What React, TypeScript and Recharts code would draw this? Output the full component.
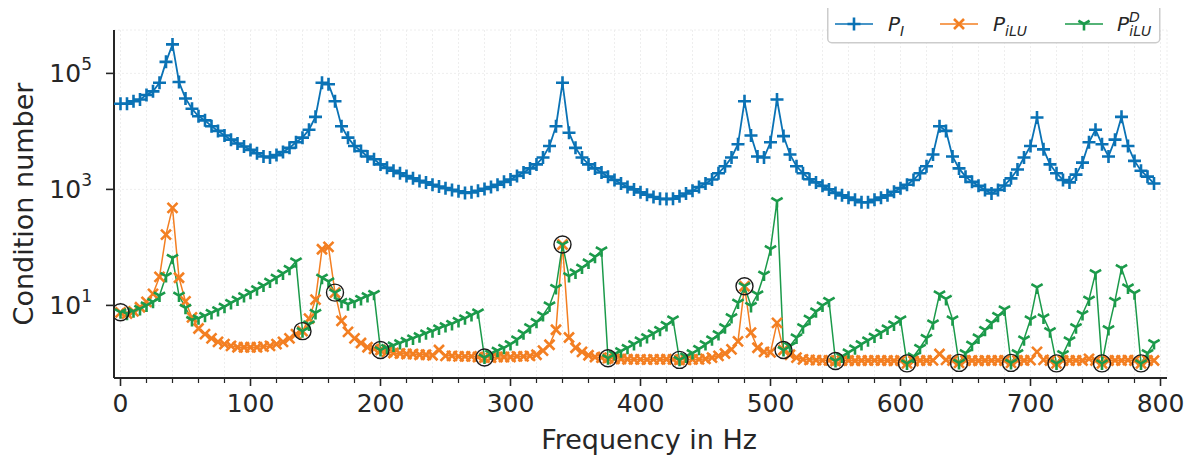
import React from 'react';
import { ComposedChart, Line, XAxis, YAxis, CartesianGrid } from 'recharts';

// condition numbers sampled every 5 Hz, 0 .. 795 Hz
const FREQ_STEP = 5;

const P_I = [
  30000, 30000, 33000, 35500, 42500, 49000, 69000, 158000, 316000, 71000,
  37000, 24500, 18200, 15500, 12300, 10200, 8500, 7200, 6200, 5500,
  4800, 4200, 3700, 3550, 3900, 4400, 5200, 6500, 7800, 10700,
  17800, 69000, 65000, 33000, 12300, 7800, 5600, 4600, 3700, 3300,
  2700, 2350, 2100, 1900, 1700, 1550, 1400, 1320, 1200, 1120,
  1050, 980, 930, 870, 890, 950, 1020, 1100, 1200, 1350,
  1480, 1700, 1950, 2300, 2700, 3550, 5600, 12300, 69000, 9500,
  5200, 3550, 2700, 2300, 1950, 1660, 1450, 1260, 1100, 1000,
  890, 810, 740, 690, 680, 690, 760, 850, 950, 1100,
  1260, 1480, 1900, 2500, 3550, 6000, 33000, 8500, 3700, 3550,
  6500, 35500, 8300, 4000, 2500, 1900, 1500, 1320, 1150, 1000,
  870, 790, 720, 660, 600, 600, 660, 720, 790, 910,
  1050, 1200, 1450, 1900, 2500, 4000, 12300, 10200, 3700, 2300,
  1660, 1350, 1150, 980, 850, 980, 1170, 1550, 2200, 3550,
  5600, 17400, 4900, 2700, 1900, 1450, 1320, 1800, 2900, 6500,
  10700, 6000, 3700, 7200, 17800, 5600, 3100, 2100, 1660, 1260,
];

const P_ILU = [
  7.6, 7.2, 7.9, 9.3, 11.5, 15.8, 31, 166, 480, 30,
  11.7, 6.2, 4.0, 3.2, 2.7, 2.35, 2.15, 2.0, 1.9, 1.9,
  1.9, 1.9, 1.95, 2.0, 2.15, 2.35, 2.7, 3.2, 3.6, 5.9,
  12.6, 93, 102, 16.6, 5.4, 3.5, 2.7, 2.25, 1.9, 1.78,
  1.7, 1.58, 1.51, 1.48, 1.45, 1.45, 1.41, 1.41, 1.38, 1.7,
  1.35, 1.35, 1.32, 1.32, 1.32, 1.29, 1.26, 1.26, 1.29, 1.29,
  1.29, 1.32, 1.32, 1.35, 1.41, 1.66, 2.1, 3.8, 112, 2.8,
  1.86, 1.58, 1.38, 1.29, 1.26, 1.23, 1.2, 1.19, 1.18, 1.17,
  1.17, 1.16, 1.17, 1.17, 1.18, 1.17, 1.15, 1.15, 1.17, 1.17,
  1.2, 1.26, 1.35, 1.48, 1.74, 2.4, 21.4, 3.4, 1.86, 1.58,
  1.55, 5.0, 1.7, 1.41, 1.26, 1.17, 1.15, 1.14, 1.13, 1.13,
  1.1, 1.12, 1.12, 1.11, 1.12, 1.12, 1.13, 1.12, 1.12, 1.11,
  1.12, 1.0, 1.1, 1.12, 1.12, 1.13, 1.45, 1.15, 1.12, 1.02,
  1.12, 1.12, 1.11, 1.12, 1.12, 1.13, 1.12, 1.02, 1.12, 1.12,
  1.14, 1.58, 1.15, 1.12, 1.0, 1.12, 1.12, 1.13, 1.12, 1.2,
  1.12, 1.0, 1.12, 1.13, 1.12, 1.14, 1.12, 1.0, 1.12, 1.12,
];

const P_ILU_D = [
  7.6, 7.2, 7.9, 8.7, 10, 11.5, 14.8, 32, 66, 14.8,
  9.1, 5.6, 6.0, 6.6, 7.4, 8.3, 9.5, 11, 12.6, 14.5,
  16.6, 19, 22, 25.7, 30, 35.5, 42.7, 57.5, 3.6, 4.7,
  7.4, 30, 26, 16.6, 11.5, 10.5, 11.5, 12.9, 14.5, 15.8,
  1.7, 1.86, 2.04, 2.24, 2.45, 2.7, 2.95, 3.3, 3.6, 4.0,
  4.4, 4.8, 5.4, 6.0, 6.8, 7.6, 1.26, 1.48, 1.66, 1.86,
  2.15, 2.6, 3.3, 4.2, 5.2, 6.8, 10, 20, 112, 32,
  37, 45, 55, 69, 89, 1.23, 1.45, 1.62, 1.86, 2.15,
  2.5, 2.85, 3.3, 3.8, 4.6, 5.75, 1.15, 1.32, 1.51, 1.78,
  2.15, 2.6, 3.2, 4.2, 6.3, 11.2, 21.4, 9.8, 15.5, 34,
  93, 630, 1.7, 2.0, 2.8, 4.2, 5.9, 7.9, 10, 12,
  1.1, 1.32, 1.55, 1.82, 2.15, 2.5, 2.9, 3.4, 4.0, 4.7,
  5.75, 1.0, 1.32, 1.86, 2.75, 4.9, 15.5, 12.9, 5.75, 1.02,
  1.51, 2.1, 2.8, 3.8, 5.0, 6.6, 8.5, 1.02, 1.51, 2.6,
  5.75, 20.4, 6.2, 3.6, 1.0, 1.45, 2.5, 4.2, 7.1, 12.6,
  36, 1.0, 3.9, 12, 44, 20.4, 16.2, 1.0, 1.51, 2.24,
];

// frequencies where the preconditioner was recomputed (circled)
const CIRCLED_HZ = [0, 140, 165, 200, 280, 340, 375, 430, 480, 510, 550, 605, 645, 685, 720, 755, 785];

const X_TICKS = [0, 20, 40, 60, 80, 100, 120, 140, 160, 180, 200, 220, 240, 260, 280, 300, 320, 340, 360, 380,
  400, 420, 440, 460, 480, 500, 520, 540, 560, 580, 600, 620, 640, 660, 680, 700, 720, 740, 760, 780, 800];
const Y_TICKS = [10, 1000, 100000];

const BLUE = '#0a72b5';
const ORANGE = '#f37f22';
const GREEN = '#1b9a4a';
const INK = '#262626';
const FONT = '"DejaVu Sans", sans-serif';

const rows = P_I.map((v, i) => {
  const f = i * FREQ_STEP;
  return {
    f,
    pi: v,
    pilu: P_ILU[i],
    pilud: P_ILU_D[i],
    circ: CIRCLED_HZ.includes(f) ? P_ILU_D[i] : null,
  };
});

const plusPath = (cx: number, cy: number, r: number) => `M${cx - r},${cy}H${cx + r}M${cx},${cy - r}V${cy + r}`;
const crossPath = (cx: number, cy: number, r: number) =>
  `M${cx - r},${cy - r}L${cx + r},${cy + r}M${cx - r},${cy + r}L${cx + r},${cy - r}`;
const triPath = (cx: number, cy: number, r: number) =>
  `M${cx},${cy}V${cy + r}M${cx},${cy}L${cx + 0.866 * r},${cy - 0.5 * r}M${cx},${cy}L${cx - 0.866 * r},${cy - 0.5 * r}`;

function marker(kind: string, color: string) {
  return (p: any) => {
    const { cx, cy, index, value } = p;
    if (cx == null || cy == null || value == null) return <g key={`${kind}-${index}`} />;
    if (kind === 'circle') {
      return <circle key={`${kind}-${index}`} cx={cx} cy={cy} r={8.5} fill="none" stroke={color} strokeWidth={1.4} />;
    }
    const d = kind === 'plus' ? plusPath(cx, cy, 6.5) : kind === 'cross' ? crossPath(cx, cy, 5) : triPath(cx, cy, 6.5);
    return <path key={`${kind}-${index}`} d={d} stroke={color} strokeWidth={2.6} fill="none" />;
  };
}

const XTick = (props: any) => {
  const { x, y, payload } = props;
  const major = payload.value % 100 === 0;
  return (
    <g>
      <line x1={x} x2={x} y1={y} y2={y + (major ? 8 : 5)} stroke={INK} strokeWidth={major ? 1.6 : 1.2} />
      {major && (
        <text x={x} y={y + 34} textAnchor="middle" fill={INK} fontSize={25} fontFamily={FONT}>
          {payload.value}
        </text>
      )}
    </g>
  );
};

const YTick = (props: any) => {
  const { x, y, payload } = props;
  const exp = Math.round(Math.log10(payload.value));
  return (
    <g>
      <line x1={x} x2={x - 8} y1={y} y2={y} stroke={INK} strokeWidth={1.6} />
      <text x={x - 22} y={y + 9} textAnchor="end" fill={INK} fontSize={25} fontFamily={FONT}>
        <tspan>10</tspan>
        <tspan dy={-12} fontSize={17}>{exp}</tspan>
      </text>
    </g>
  );
};

function LegendBox() {
  const item = (x0: number, color: string, kind: string) => (
    <g>
      <line x1={x0} x2={x0 + 38} y1={20} y2={20} stroke={color} strokeWidth={1.6} />
      <path
        d={kind === 'plus' ? plusPath(x0 + 19, 20, 6.5) : kind === 'cross' ? crossPath(x0 + 19, 20, 5) : triPath(x0 + 19, 20, 6.5)}
        stroke={color}
        strokeWidth={2.6}
        fill="none"
      />
    </g>
  );
  return (
    <g transform="translate(819,-4)">
      <rect x={0.75} y={0.75} width={332} height={38} rx={4} fill="#ffffff" stroke="#cccccc" strokeWidth={1.5} />
      {item(8, BLUE, 'plus')}
      <text x={61} y={27} fontSize={20} fontFamily={FONT} fontStyle="italic" fill={INK}>
        P<tspan dy={5} fontSize={14}>I</tspan>
      </text>
      {item(113, ORANGE, 'cross')}
      <text x={166} y={27} fontSize={20} fontFamily={FONT} fontStyle="italic" fill={INK}>
        P<tspan dy={5} fontSize={14}>iLU</tspan>
      </text>
      {item(238, GREEN, 'tri')}
      <text x={290} y={27} fontSize={20} fontFamily={FONT} fontStyle="italic" fill={INK}>
        P<tspan dy={-9} fontSize={14}>D</tspan>
        <tspan dx={-10.5} dy={14} fontSize={14}>iLU</tspan>
      </text>
    </g>
  );
}

export default function App() {
  const W = 1186;
  const H = 458;
  return (
    <div style={{ position: 'relative', width: W, height: H }}>
      <ComposedChart width={W} height={H} data={rows} margin={{ top: 22, right: 27, bottom: 0, left: 0 }}>
        <CartesianGrid stroke="#ececec" strokeDasharray="2 2" strokeWidth={0.9} />
        <XAxis
          dataKey="f"
          type="number"
          domain={[-5, 805]}
          ticks={X_TICKS}
          interval={0}
          allowDataOverflow
          height={88}
          tickSize={0}
          tickMargin={0}
          tick={<XTick />}
          tickLine={false}
          axisLine={{ stroke: INK, strokeWidth: 2 }}
        />
        <XAxis
          xAxisId="top"
          orientation="top"
          type="number"
          domain={[-5, 805]}
          height={0}
          tick={false}
          tickLine={false}
          axisLine={{ stroke: INK, strokeWidth: 2 }}
        />
        <YAxis
          type="number"
          scale="log"
          domain={[0.56, 560000]}
          ticks={Y_TICKS}
          interval={0}
          allowDataOverflow
          width={106}
          tickSize={0}
          tickMargin={0}
          tick={<YTick />}
          tickLine={false}
          axisLine={{ stroke: INK, strokeWidth: 2 }}
        />
        <YAxis
          yAxisId="right"
          orientation="right"
          type="number"
          domain={[0, 1]}
          width={0}
          tick={false}
          tickLine={false}
          axisLine={{ stroke: INK, strokeWidth: 2 }}
        />
        <Line dataKey="pi" stroke={BLUE} strokeWidth={1.8} dot={marker('plus', BLUE)} activeDot={false} isAnimationActive={false} />
        <Line dataKey="pilu" stroke={ORANGE} strokeWidth={1.5} dot={marker('cross', ORANGE)} activeDot={false} isAnimationActive={false} />
        <Line dataKey="pilud" stroke={GREEN} strokeWidth={1.5} dot={marker('tri', GREEN)} activeDot={false} isAnimationActive={false} />
        <Line dataKey="circ" stroke="none" dot={marker('circle', '#1a1a1a')} activeDot={false} isAnimationActive={false} />
      </ComposedChart>
      <svg width={W} height={H} style={{ position: 'absolute', left: 0, top: 0, overflow: 'visible', pointerEvents: 'none' }}>
        <text x={641} y={441} textAnchor="middle" fontSize={27} fontFamily={FONT} fill={INK}>
          Frequency in Hz
        </text>
        <text x={25} y={196} textAnchor="middle" fontSize={27} fontFamily={FONT} fill={INK} transform="rotate(-90,25,196)">
          Condition number
        </text>
        <LegendBox />
      </svg>
    </div>
  );
}
